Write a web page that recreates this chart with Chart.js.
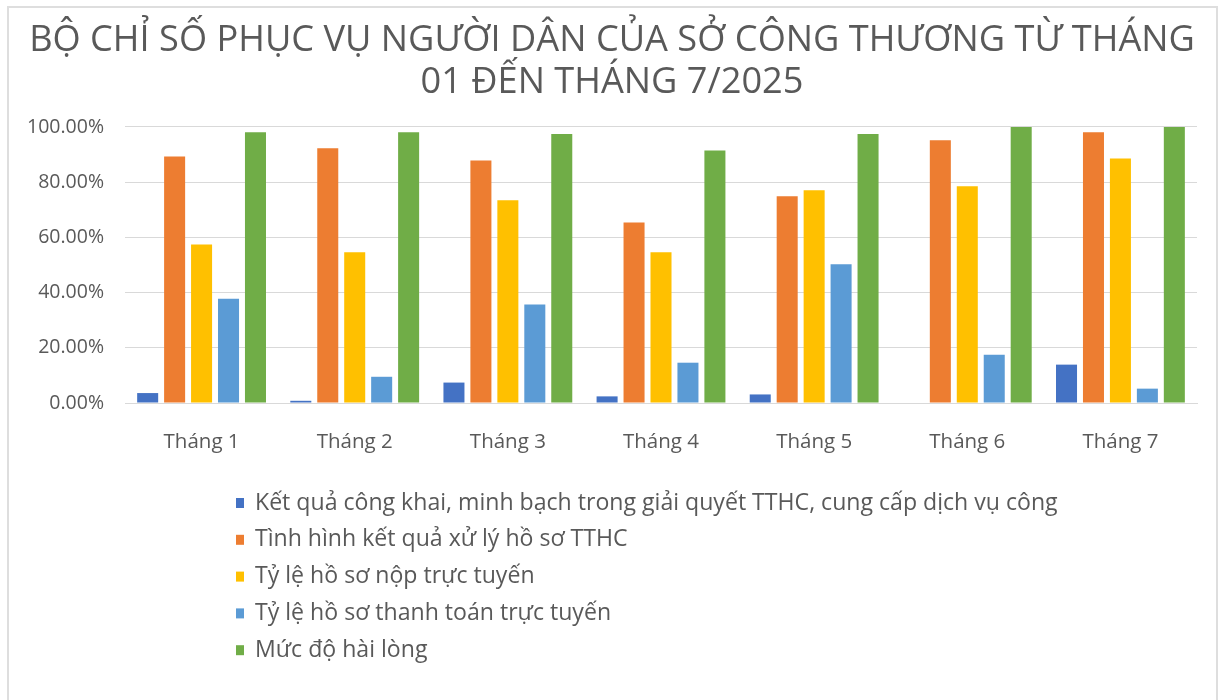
<!DOCTYPE html>
<html>
<head>
<meta charset="utf-8">
<script src="https://cdn.jsdelivr.net/npm/chart.js@4.4.1/dist/chart.umd.min.js"></script>
<style>
    body { margin: 0; background: #fff; }
    #frame { position: absolute; left: 7px; top: 6px; width: 1207px; height: 720px; border: 2px solid #dedede; }
    #wrap { position: absolute; left: 0; top: 0; width: 1219px; height: 700px; }
</style>
</head>
<body>
<div id="frame"></div>
<div id="wrap"><canvas id="chiSoChart" width="1219" height="700"></canvas></div>
<script>
const months = ['Tháng 1', 'Tháng 2', 'Tháng 3', 'Tháng 4', 'Tháng 5', 'Tháng 6', 'Tháng 7'];
const seriesNames = [
    'Kết quả công khai, minh bạch trong giải quyết TTHC, cung cấp dịch vụ công',
    'Tình hình kết quả xử lý hồ sơ TTHC',
    'Tỷ lệ hồ sơ nộp trực tuyến',
    'Tỷ lệ hồ sơ thanh toán trực tuyến',
    'Mức độ hài lòng'
];
const congKhai = [0.036, 0.008, 0.074, 0.024, 0.031, 0.0, 0.139];
const xuLyHoSo = [0.893, 0.923, 0.879, 0.654, 0.749, 0.952, 0.981];
const nopTrucTuyen = [0.574, 0.546, 0.735, 0.546, 0.771, 0.785, 0.886];
const thanhToan = [0.378, 0.095, 0.357, 0.146, 0.503, 0.175, 0.052];
const haiLong = [0.981, 0.981, 0.975, 0.915, 0.975, 1.0, 1.0];
const yTicks = [0, 0.2, 0.4, 0.6, 0.8, 1.0];

const colors = ['#4472C4', '#ED7D31', '#FFC000', '#5B9BD5', '#70AD47'];
const textColor = '#595959';
const fontName = "'Open Sans', 'Noto Sans', sans-serif";

const allValues = [congKhai, xuLyHoSo, nopTrucTuyen, thanhToan, haiLong];

// legend drawn one item per row below the plot
const listLegend = {
    id: 'listLegend',
    afterDraw(chart) {
        const ctx = chart.ctx;
        ctx.save();
        ctx.font = '23.1px ' + fontName;
        ctx.textBaseline = 'middle';
        chart.data.datasets.forEach(function(ds, i) {
            const y = 503 + i * 36.8;
            ctx.fillStyle = ds.backgroundColor;
            ctx.fillRect(236, y - 5, 8, 10);
            ctx.fillStyle = textColor;
            ctx.fillText(ds.label, 255, y);
        });
        ctx.restore();
    }
};

const ctx = document.getElementById('chiSoChart').getContext('2d');
const chart = new Chart(ctx, {
    type: 'bar',
    data: {
        labels: months,
        datasets: seriesNames.map(function(name, i) {
            return {
                label: name,
                data: allValues[i],
                backgroundColor: colors[i],
                categoryPercentage: 0.88,
                barPercentage: 0.78
            };
        })
    },
    options: {
        responsive: false,
        animation: false,
        layout: { padding: { left: 27, right: 22, top: 0, bottom: 0 } },
        plugins: {
            legend: { display: false },
            tooltip: { enabled: false },
            title: {
                display: true,
                text: ['BỘ CHỈ SỐ PHỤC VỤ NGƯỜI DÂN CỦA SỞ CÔNG THƯƠNG TỪ THÁNG', '01 ĐẾN THÁNG 7/2025'],
                color: textColor,
                font: { family: fontName, size: 36.2, weight: 'normal', lineHeight: 1.16 },
                padding: { top: 20, bottom: 23 }
            }
        },
        scales: {
            x: {
                grid: { display: false },
                border: { color: '#d9d9d9', width: 1 },
                ticks: { color: textColor, font: { family: fontName, size: 20.5 }, padding: 19 },
                afterFit: function(scale) { scale.height = 297; }
            },
            y: {
                min: 0,
                max: 1,
                afterBuildTicks: function(scale) {
                    scale.ticks = yTicks.map(function(v) { return { value: v }; });
                },
                grid: { color: '#d9d9d9', drawTicks: false },
                border: { display: false },
                ticks: {
                    color: textColor,
                    font: { family: fontName, size: 19.5 },
                    padding: 21,
                    callback: function(v) { return (v * 100).toFixed(2) + '%'; }
                },
                afterFit: function(scale) { scale.width = 98; }
            }
        }
    },
    plugins: [listLegend]
});
</script>
</body>
</html>
